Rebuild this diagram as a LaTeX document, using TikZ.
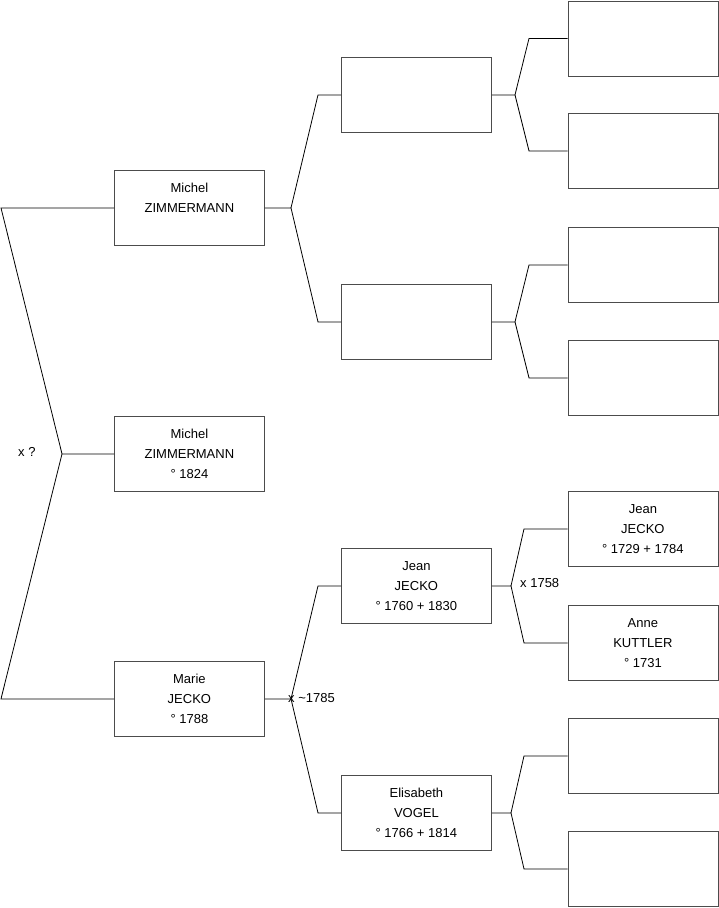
\documentclass[tikz,border=0pt]{standalone}
\usepackage{fontspec}
\setmainfont{Liberation Sans}
\begin{document}
\begin{tikzpicture}[x=1pt,y=-1pt,
  person/.style={draw=black!70, line width=0.8pt, minimum width=150pt, minimum height=75pt,
    inner sep=0pt, align=center, font=\fontsize{13}{20}\selectfont, anchor=north west},
  link/.style={draw=black, line width=0.8pt},
  lbl/.style={font=\fontsize{13}{16}\selectfont, inner sep=0pt, anchor=west}]
\useasboundingbox (0,0) rectangle (719,908);
% level 1
\node[person] (father) at (114,170) {Michel\\ZIMMERMANN\\\mbox{}};
\node[person] (root)   at (114,416) {Michel\\ZIMMERMANN\\° 1824};
\node[person] (mother) at (114,661) {Marie\\JECKO\\° 1788};
% level 2
\node[person] (ff) at (341,57) {};
\node[person] (fm) at (341,284) {};
\node[person] (mf) at (341,548) {Jean\\JECKO\\° 1760 + 1830};
\node[person] (mm) at (341,775) {Elisabeth\\VOGEL\\° 1766 + 1814};
% level 3
\node[person] (fff) at (567.5,0.5) {};
\node[person] (ffm) at (567.5,113) {};
\node[person] (fmf) at (567.5,227) {};
\node[person] (fmm) at (567.5,340) {};
\node[person] (mff) at (567.5,491) {Jean\\JECKO\\° 1729 + 1784};
\node[person] (mfm) at (567.5,605) {Anne\\KUTTLER\\° 1731};
\node[person] (mmf) at (567.5,718) {};
\node[person] (mmm) at (567.5,831) {};
% root fork
\coordinate (f0) at (62,0 |- root.west);
\coordinate (t0) at (1,0 |- father.west);
\coordinate (b0) at (1,0 |- mother.west);
\draw[link] (root.west) -- (f0) -- (t0) -- (father.west);
\draw[link] (f0) -- (b0) -- (mother.west);
\node[lbl] (x0) at (18,452) {x ?};
% father fork
\coordinate (f1) at (291,0 |- father.east);
\coordinate (t1) at (318,0 |- ff.west);
\coordinate (b1) at (318,0 |- fm.west);
\draw[link] (father.east) -- (f1) -- (t1) -- (ff.west);
\draw[link] (f1) -- (b1) -- (fm.west);
% mother fork
\coordinate (f2) at (291,0 |- mother.east);
\coordinate (t2) at (318,0 |- mf.west);
\coordinate (b2) at (318,0 |- mm.west);
\draw[link] (mother.east) -- (f2) -- (t2) -- (mf.west);
\draw[link] (f2) -- (b2) -- (mm.west);
\node[lbl] (x2) at (288,698) {x \textasciitilde1785};
% ff fork
\coordinate (f3) at (515,0 |- ff.east);
\coordinate (t3) at (529,0 |- fff.west);
\coordinate (b3) at (529,0 |- ffm.west);
\draw[link] (ff.east) -- (f3) -- (t3) -- (fff.west);
\draw[link] (f3) -- (b3) -- (ffm.west);
% fm fork
\coordinate (f4) at (515,0 |- fm.east);
\coordinate (t4) at (529,0 |- fmf.west);
\coordinate (b4) at (529,0 |- fmm.west);
\draw[link] (fm.east) -- (f4) -- (t4) -- (fmf.west);
\draw[link] (f4) -- (b4) -- (fmm.west);
% mf fork
\coordinate (f5) at (511,0 |- mf.east);
\coordinate (t5) at (524,0 |- mff.west);
\coordinate (b5) at (524,0 |- mfm.west);
\draw[link] (mf.east) -- (f5) -- (t5) -- (mff.west);
\draw[link] (f5) -- (b5) -- (mfm.west);
\node[lbl] (x5) at (520,583) {x 1758};
% mm fork
\coordinate (f6) at (511,0 |- mm.east);
\coordinate (t6) at (524,0 |- mmf.west);
\coordinate (b6) at (524,0 |- mmm.west);
\draw[link] (mm.east) -- (f6) -- (t6) -- (mmf.west);
\draw[link] (f6) -- (b6) -- (mmm.west);
\end{tikzpicture}
\end{document}
